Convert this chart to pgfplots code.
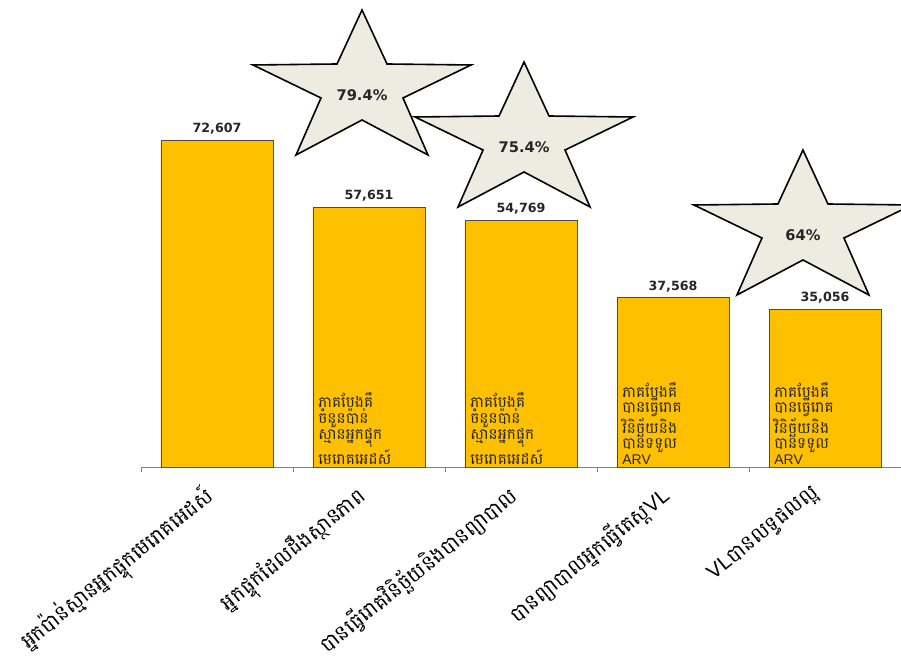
\documentclass[border=0pt]{standalone}
\usepackage{pgfplots}
\pgfplotsset{compat=1.18}
\usepackage{fontspec}
\setmainfont{Liberation Sans}
\newfontfamily\khmer[Script=Khmer]{Battambang}
\newfontfamily\numfont{DejaVu Sans}
\definecolor{barfill}{HTML}{FFC000}
\definecolor{starfill}{HTML}{EEECE1}
\definecolor{txt}{HTML}{262626}

\begin{document}
\begin{tikzpicture}
\begin{axis}[
  at={(0,0)}, anchor=south west,
  scale only axis, width=570pt, height=337.79pt,
  xmin=-0.5, xmax=4.5, ymin=0, ymax=100000,
  axis x line*=bottom, axis y line=none,
  x axis line style={-, draw=gray, line width=0.6pt},
  ybar, bar width=84pt,
  xtick={0,1,2,3,4},
  xticklabels={
    {អ្នកប៉ាន់ស្មានអ្នកផ្ទុកមេរោគអេដស៍},
    {អ្នកផ្ទុកដែលដឹងស្ថានភាព},
    {បានធ្វើរោគវិនិច្ឆ័យនិងបានព្យាបាល},
    {បានព្យាបាលអ្នកធ្វើតេស្ត{\rmfamily VL}},
    {{\rmfamily VL}បានលទ្ធផលល្អ}},
  major tick length=0pt,
  minor xtick={-0.5,0.5,1.5,2.5,3.5,4.5},
  minor tick length=4pt,
  tick align=outside,
  minor x tick style={draw=gray, line width=0.6pt},
  xticklabel style={rotate=39, anchor=north east, inner sep=1pt, yshift=-1pt, xshift=-15pt,
    font=\khmer\fontsize{15.5}{15.5}\selectfont, text=black},
  nodes near coords,
  nodes near coords style={font=\numfont\bfseries\fontsize{9.5}{10}\selectfont, text=txt, inner sep=4pt},
  /pgf/number format/assume math mode=true,
  /pgf/number format/1000 sep={,},
  clip=false,
]
\addplot[fill=barfill, draw=black!70, line width=0.6pt]
  coordinates {(0,72607) (1,57651) (2,54769) (3,37568) (4,35056)};

\node[anchor=south west, align=left, inner sep=0pt, text=txt,
  font=\khmer\fontsize{11.5}{12}\selectfont] at (axis cs:0.665,600)
  {ភាគបែងគឺ\\ចំនួនប៉ាន់\\ស្មានអ្នកផ្ទុក\\មេរោគអេដស៍};
\node[anchor=south west, align=left, inner sep=0pt, text=txt,
  font=\khmer\fontsize{11.5}{12}\selectfont] at (axis cs:1.665,600)
  {ភាគបែងគឺ\\ចំនួនប៉ាន់\\ស្មានអ្នកផ្ទុក\\មេរោគអេដស៍};
\node[anchor=south west, align=left, inner sep=0pt, text=txt,
  font=\khmer\fontsize{11.5}{11.5}\selectfont] at (axis cs:2.665,600)
  {ភាគបែងគឺ\\បានធ្វើរោគ\\វិនិច្ឆ័យនិង\\បានទទួល\\{\rmfamily\fontsize{10.5}{11.5}\selectfont ARV}};
\node[anchor=south west, align=left, inner sep=0pt, text=txt,
  font=\khmer\fontsize{11.5}{11.5}\selectfont] at (axis cs:3.665,600)
  {ភាគបែងគឺ\\បានធ្វើរោគ\\វិនិច្ឆ័យនិង\\បានទទួល\\{\rmfamily\fontsize{10.5}{11.5}\selectfont ARV}};

\coordinate (s1) at (axis cs:0.954,82597);
\coordinate (s2) at (axis cs:2.020,71050);
\coordinate (s3) at (axis cs:3.855,51512);
\end{axis}

\foreach \c/\t in {s1/79.4\%, s2/75.4\%, s3/64\%}{
  \begin{scope}[shift={(\c)}, x=0.75pt, y=0.75pt]
    \draw[fill=starfill, draw=black, line width=1.2pt, line join=miter]
      (0,85)--(25,31)--(109,30)--(41,-3)--(66,-60)--(0,-25)--(-66,-60)--(-41,-3)--(-109,30)--(-25,31)--cycle;
    \node[font=\numfont\bfseries\fontsize{11}{12}\selectfont, text=txt] at (0,0) {\t};
  \end{scope}
}

\pgfresetboundingbox
\path[use as bounding box] (-105.75pt,-150pt) rectangle (570pt,350.25pt);
\end{tikzpicture}
\end{document}
